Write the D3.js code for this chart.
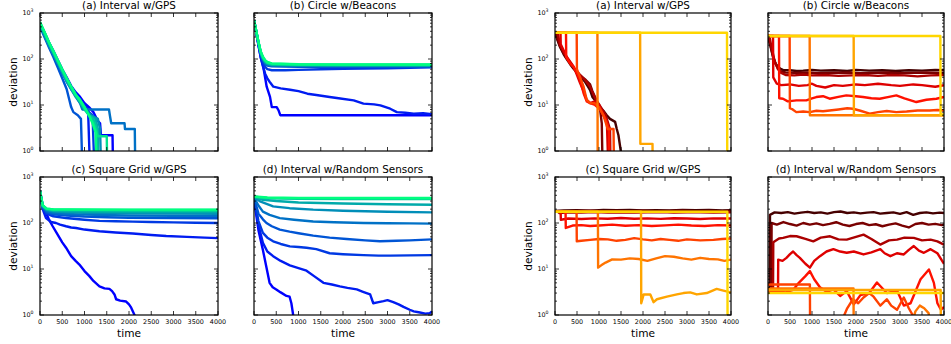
<!DOCTYPE html>
<html>
<head>
<meta charset="utf-8">
<script src="https://cdn.jsdelivr.net/npm/d3@7"></script>
<style>
  body { margin: 0; background: #fff; }
  text { font-family: "DejaVu Sans", sans-serif; fill: #000; }
</style>
</head>
<body>
<script>
// axis values
const timeTicks = [0, 500, 1000, 1500, 2000, 2500, 3000, 3500, 4000];
const decadeExps = [0, 1, 2, 3];
const panelTitles = ["(a) Interval w/GPS", "(b) Circle w/Beacons", "(c) Square Grid w/GPS", "(d) Interval w/Random Sensors"];

// left block, series 0 (blue) .. 9 (green); each point is [time, deviation]
const leftA = [
  [[0,600],[100,380],[200,230],[300,150],[400,95],[500,60],[600,40],[700,26],[800,19],[900,15],[1000,11],[1100,9],[1200,7],[1300,4.5],[1350,4],[1370,2.2],[1630,2.2],[1640,0.5]],
  [[0,560],[100,350],[200,210],[300,135],[400,85],[500,55],[600,35],[700,24],[800,17],[900,13],[1000,10],[1080,8],[1120,0.5]],
  [[0,540],[100,330],[200,200],[300,125],[400,80],[500,50],[600,33],[700,22],[800,16],[900,12],[1000,9],[1100,7],[1180,6],[1220,0.5]],
  [[0,500],[100,300],[200,180],[300,110],[400,65],[500,38],[600,22],[650,14],[700,9],[750,7],[850,6],[920,5],[950,0.5]],
  [[0,560],[100,340],[200,210],[300,130],[400,85],[500,55],[600,36],[700,24],[800,16],[900,11],[950,8],[1550,8],[1570,6],[1600,4],[1900,4],[1910,3],[2130,3],[2140,0.5]],
  [[0,520],[100,320],[200,195],[300,125],[400,80],[500,50],[600,32],[700,22],[800,15],[900,11],[1000,8],[1150,6],[1300,5],[1350,3],[1370,0.5]],
  [[0,580],[100,360],[200,220],[300,140],[400,90],[500,58],[600,37],[700,25],[800,17],[900,13],[1000,9],[1100,6],[1250,5],[1300,3],[1310,0.5]],
  [[0,600],[100,370],[200,225],[300,140],[400,88],[500,55],[600,35],[700,23],[800,16],[900,12],[1000,8],[1100,6],[1200,5],[1280,3],[1300,0.5]],
  [[0,620],[100,380],[200,230],[300,145],[400,90],[500,58],[600,38],[700,25],[800,17],[900,12],[1000,9],[1100,6],[1200,4],[1300,2.1],[1500,2.1],[1510,0.5]],
  [[0,640],[100,390],[200,235],[300,150],[400,95],[500,60],[600,38],[700,25],[800,17],[900,13],[1000,9],[1100,6],[1180,4],[1250,2.5],[1270,0.5]]
];
const leftB = [
  [[0,700],[50,380],[100,200],[150,110],[210,67],[285,25],[360,15],[400,9],[510,9],[550,7.7],[590,6],[4000,6]],
  [[0,700],[50,380],[100,200],[150,110],[200,70],[250,48],[300,38],[350,32],[435,25],[600,23],[810,21.5],[1000,20],[1200,17.6],[1400,16.5],[1700,14.9],[1900,14],[2240,12.6],[2460,10.7],[2700,10.3],[2840,9.8],[3060,8.3],[3210,7],[3400,6.8],[3590,6.5],[3800,6.6],[4000,6.3]],
  [[0,700],[50,390],[100,210],[150,120],[200,85],[250,68],[300,60],[400,57],[700,57],[1000,58],[1500,60],[2000,61],[2500,62],[3000,63],[3500,64],[4000,66]],
  [[0,700],[50,395],[100,220],[150,130],[200,95],[250,78],[300,72],[400,69],[1000,68],[2000,68],[3000,68],[4000,68]],
  [[0,700],[50,398],[100,225],[150,135],[200,98],[250,82],[300,75],[400,71],[1000,70],[2000,70],[3000,70],[4000,70]],
  [[0,700],[50,400],[100,228],[150,138],[200,102],[250,85],[300,78],[400,74],[1000,72],[2000,72],[3000,72],[4000,72]],
  [[0,700],[50,402],[100,230],[150,140],[200,105],[250,88],[300,80],[400,76],[1000,74],[2000,73],[3000,73],[4000,73]],
  [[0,700],[50,405],[100,232],[150,142],[200,107],[250,90],[300,82],[400,77],[1000,75],[2000,74],[3000,74],[4000,74]],
  [[0,700],[50,408],[100,235],[150,145],[200,110],[250,92],[300,84],[400,79],[1000,76],[2000,75],[3000,75],[4000,75]],
  [[0,700],[50,410],[100,238],[150,148],[200,112],[250,95],[300,86],[400,80],[1000,77],[2000,76],[3000,76],[4000,76]]
];
const leftC = [
  [[0,500],[60,250],[135,165],[200,120],[285,85],[400,55],[500,38],[585,29],[700,19],[800,15],[885,12.5],[1000,9],[1110,7],[1200,5.5],[1336,4.2],[1450,3.8],[1560,3.7],[1620,3.3],[1674,2.8],[1711,2.2],[1800,2.05],[1936,1.96],[2000,1.7],[2049,1.44],[2124,1],[2140,0.5]],
  [[0,480],[60,200],[135,128],[250,105],[360,100],[450,92],[585,85],[700,80],[810,78],[1000,72],[1336,66],[1700,62],[2086,59],[2500,55],[2837,52],[3300,50],[3700,48],[4000,47]],
  [[0,470],[60,210],[140,160],[300,140],[585,128],[1000,118],[1336,111],[1700,109],[2086,107],[2500,105],[3000,103],[3500,101],[4000,100]],
  [[0,460],[60,220],[150,170],[300,155],[600,145],[1000,138],[1500,133],[2000,130],[3000,128],[4000,127]],
  [[0,460],[60,225],[150,180],[300,165],[600,157],[1000,152],[2000,146],[3000,144],[4000,143]],
  [[0,470],[60,230],[150,190],[300,178],[600,170],[1000,166],[2000,162],[3000,160],[4000,158]],
  [[0,480],[60,235],[150,195],[300,185],[600,180],[1000,177],[2000,174],[3000,173],[4000,172]],
  [[0,490],[60,240],[150,200],[300,192],[1000,188],[2000,186],[3000,185],[4000,185]],
  [[0,500],[60,240],[150,205],[300,196],[1000,193],[2000,192],[4000,192]],
  [[0,500],[60,245],[150,205],[300,198],[1000,196],[2000,195],[4000,195]]
];
const leftD = [
  [[0,330],[100,70],[200,26],[270,12],[350,5],[420,4],[500,3.6],[600,3.1],[730,2.6],[800,2.5],[840,1.8],[880,1],[900,0.5]],
  [[0,340],[100,90],[200,37],[300,24],[430,19],[600,15],[805,12],[1000,10.5],[1180,9.2],[1350,7],[1560,5],[1750,4.6],[1930,4.2],[2100,3.9],[2310,3.6],[2450,3.2],[2610,2.8],[2680,1.8],[2800,1.9],[2910,2],[3000,2.1],[3130,1.9],[3250,1.7],[3360,1.5],[3500,1.3],[3590,1.2],[3700,1.15],[3850,1.07],[3950,1.1],[4000,1.2]],
  [[0,350],[100,110],[200,61],[300,48],[430,40],[600,35],[805,31],[1000,30],[1180,29],[1400,27],[1700,22],[2000,21],[2460,20],[2800,19.5],[3060,19.5],[3500,19.8],[4000,20]],
  [[0,355],[100,160],[200,120],[280,100],[400,85],[580,72],[800,65],[1000,60],[1330,53],[1700,48],[2080,45],[2500,42],[2830,40],[3200,41],[3500,42],[4000,44]],
  [[0,360],[100,240],[200,177],[350,150],[580,128],[900,118],[1330,108],[1800,104],[2460,100],[3000,99],[3500,98],[4000,97]],
  [[0,365],[150,290],[430,230],[800,210],[1330,195],[2000,185],[3000,176],[4000,170]],
  [[0,370],[200,320],[500,300],[1000,280],[2000,265],[3000,255],[4000,250]],
  [[0,372],[300,345],[1000,335],[2000,332],[4000,330]],
  [[0,375],[300,352],[1000,345],[2000,343],[4000,342]],
  [[0,378],[300,358],[1000,352],[2000,350],[4000,350]]
];

// right block, series 0 (dark) .. 8 (yellow)
const rightA = [
  [[0,373],[60,250],[114,182],[200,125],[266,100],[340,78],[417,62],[500,50],[570,41],[630,36],[683,32],[740,26],[797,21],[850,15],[911,12.6],[970,10],[1025,9],[1100,7.5],[1176,6],[1250,5],[1366,4.3],[1404,3],[1442,2.2],[1495,1],[1500,0.5]],
  [[0,373],[40,300],[114,190],[200,130],[266,105],[417,65],[570,44],[700,35],[797,28],[850,20],[911,15],[970,11],[1025,8],[1063,4],[1080,0.5]],
  [[0,373],[60,373],[114,200],[266,108],[417,66],[570,45],[683,35],[797,25],[911,14],[1025,9.5],[1150,6],[1250,3],[1260,0.5]],
  [[0,373],[125,373],[130,210],[266,112],[417,70],[500,45],[570,30],[650,20],[720,13],[800,11],[900,12],[1000,10],[1100,6],[1180,4],[1210,0.5]],
  [[0,373],[250,373],[255,110],[340,80],[417,68],[500,50],[570,35],[650,18],[720,12],[800,11],[911,10],[1025,8],[1150,5],[1230,3],[1240,0.5]],
  [[0,373],[493,373],[498,60],[570,40],[650,25],[720,13],[800,11],[900,11],[1000,9],[1100,6],[1200,3],[1330,3],[1340,0.5]],
  [[0,373],[964,373],[970,0.5]],
  [[0,373],[1935,373],[1940,1.43],[2216,1.43],[2220,0.5]],
  [[0,373],[3909,373],[3915,0.5]]
];
const rightB = [
  [[0,316],[50,200],[114,110],[170,80],[227,67],[300,60],[341,58],[500,57],[650,55],[800,56],[1000,58],[1200,56],[1500,57],[1800,55],[2000,58],[2300,56],[2600,57],[2900,55],[3200,57],[3500,56],[3800,58],[4000,57]],
  [[0,316],[50,210],[114,115],[170,80],[227,62],[300,54],[400,51],[600,50],[900,51],[1200,49],[1500,50],[1800,51],[2100,49],[2400,50],[2700,51],[3000,49],[3300,50],[3600,51],[4000,50]],
  [[0,316],[30,316],[80,180],[150,90],[227,60],[300,50],[400,45],[600,44],[800,46],[1000,44],[1300,45],[1600,43],[1900,44],[2200,45],[2500,43],[2800,45],[3100,44],[3400,42],[3700,44],[4000,45]],
  [[0,316],[114,316],[120,40],[200,29],[300,27],[500,28],[700,26],[900,27],[1000,29],[1100,26],[1300,24],[1500,27],[1700,26],[2000,28],[2200,27],[2500,29],[2800,27],[3000,26],[3300,28],[3500,27],[3800,25],[4000,27]],
  [[0,316],[250,316],[255,14],[341,13.7],[450,12],[644,12.6],[871,12.6],[1000,14],[1098,14.9],[1250,15.5],[1402,13.7],[1600,15],[1780,16.2],[2000,15.5],[2159,14.9],[2350,14],[2538,13.7],[2750,15],[2917,16.2],[3100,14],[3371,11.6],[3600,13],[3826,13.7],[4000,14.9]],
  [[0,316],[492,316],[497,8.5],[560,8],[644,7],[800,7.2],[947,7],[1100,7.5],[1250,7.3],[1402,7.6],[1600,8],[1800,8.5],[1932,8.3],[2100,7.5],[2311,6.5],[2500,7],[2700,7.4],[2917,7],[3150,7.2],[3400,7.6],[3674,7.6],[3850,7.8],[4000,7.6]],
  [[0,316],[947,316],[952,6],[4000,6]],
  [[0,316],[1947,316],[1952,6],[4000,6]],
  [[0,316],[3917,316],[3922,6.2],[4000,6.2]]
];
const rightC = [
  [[0,182],[200,188],[500,190],[800,186],[1100,191],[1400,189],[1700,192],[2000,188],[2300,190],[2600,187],[2900,191],[3200,189],[3500,192],[3800,188],[4000,190]],
  [[0,180],[200,178],[500,182],[800,184],[1100,180],[1400,183],[1700,181],[2000,184],[2300,180],[2600,182],[2900,184],[3200,181],[3500,183],[3800,180],[4000,182]],
  [[0,178],[60,178],[100,165],[300,170],[600,168],[900,172],[1200,169],[1500,171],[1800,168],[2100,170],[2400,172],[2700,168],[3000,170],[3300,171],[3600,168],[4000,170]],
  [[0,176],[128,176],[133,118],[300,125],[600,122],[900,126],[1200,124],[1500,128],[1800,124],[2100,126],[2400,123],[2700,127],[3000,125],[3300,122],[3600,126],[4000,125]],
  [[0,176],[240,176],[245,78],[400,88],[600,90],[800,86],[1000,88],[1300,92],[1600,87],[1900,90],[2200,86],[2500,89],[2800,92],[3100,88],[3400,86],[3700,90],[4000,88]],
  [[0,176],[490,176],[495,40],[600,41],[800,43],[1000,45],[1200,44],[1400,41],[1600,43],[1800,47],[2000,44],[2200,42],[2400,45],[2600,43],[2800,41],[3000,44],[3300,42],[3600,43],[3800,45],[4000,46]],
  [[0,176],[975,176],[980,10.7],[1050,12],[1150,13.8],[1300,16.2],[1500,16],[1700,17],[1900,16.5],[2100,15],[2300,17],[2500,19],[2700,18.5],[2900,17],[3100,16],[3300,17.5],[3500,16.5],[3700,16.2],[3850,15],[4000,16]],
  [[0,176],[1955,176],[1960,1.8],[2015,2.8],[2166,2.8],[2241,1.9],[2317,2.2],[2543,2.5],[2770,2.8],[2920,3],[3072,3.1],[3223,2.8],[3449,3],[3675,3.7],[3826,3.4],[4000,3.1]],
  [[0,176],[3917,176],[3922,0.5]]
];
const rightD = [
  [[0,3.2],[38,3.2],[45,150],[150,170],[300,165],[450,172],[600,160],[750,168],[900,175],[1050,165],[1200,170],[1350,160],[1500,172],[1650,178],[1800,165],[1950,170],[2100,162],[2250,168],[2400,172],[2550,160],[2700,165],[2850,170],[3000,158],[3150,172],[3300,150],[3450,165],[3600,170],[3750,162],[3900,168],[4000,165]],
  [[0,3.2],[76,3.2],[82,100],[200,92],[350,105],[500,95],[650,88],[800,100],[950,92],[1100,98],[1250,90],[1400,96],[1550,104],[1700,92],[1850,86],[2000,95],[2150,100],[2300,90],[2450,94],[2600,85],[2750,92],[2900,98],[3050,88],[3200,80],[3350,95],[3500,100],[3650,92],[3800,96],[3950,90],[4000,93]],
  [[0,3.2],[114,3.2],[120,38],[250,46],[343,47.5],[500,52],[648,51.5],[850,45],[1029,40],[1200,48],[1410,51.5],[1600,44],[1790,43.6],[2000,50],[2171,56],[2350,45],[2552,34],[2750,42],[2933,43.6],[3100,48],[3314,47.5],[3500,42],[3695,43.6],[3850,40],[4000,34]],
  [[0,3.2],[228,3.2],[232,16],[330,15],[419,17.5],[500,21],[571,24],[650,20],[724,17.5],[850,13],[952,10.7],[1050,15],[1181,19],[1330,24],[1486,27],[1640,24],[1790,22.5],[1950,24],[2171,20.7],[2350,23],[2552,27],[2650,22],[2781,19],[2930,22],[3086,20.7],[3200,26],[3314,31.5],[3430,25],[3543,22.5],[3695,27],[3850,22],[4000,13]],
  [[0,3.2],[200,3.3],[400,3.1],[571,3.5],[700,5],[850,7],[952,9],[1050,6],[1180,4],[1330,3.2],[1486,3.6],[1640,2.6],[1790,3.3],[1950,1.7],[2100,2.7],[2300,3],[2476,5.1],[2700,3],[2933,3.4],[3086,1.6],[3240,1.8],[3467,6],[3657,9.8],[3770,5],[3850,1.8],[3930,1.3],[4000,1.5]],
  [[0,4.6],[952,4.6],[957,0.5],[1714,0.9],[1800,1.4],[1930,2.2],[2050,1.8],[2171,2.4],[2300,3],[2400,2.5],[2552,1.6],[2700,2.2],[2800,1.6],[2933,1.3],[3086,2.4],[3200,1.4],[3314,0.9],[3400,0.5]],
  [[0,3.8],[1943,3.8],[1948,0.5],[3280,0.7],[3350,1.2],[3450,1.6],[3550,1.4],[3650,1.1],[3700,0.6]],
  [[0,3.5],[3924,3.5],[3929,0.5]],
  [[0,3.0],[4000,3.0]]
];

// matplotlib-like colormaps
function winter(t) { return d3.rgb(0, 255 * t, 255 * (1 - 0.5 * t)).toString(); }
function hot(x) {
  const c = v => Math.max(0, Math.min(1, v));
  return d3.rgb(255 * c(x / 0.365), 255 * c((x - 0.365) / 0.375), 255 * c((x - 0.74) / 0.26)).toString();
}

const width = 951, height = 344;
const svg = d3.select('body').append('svg').attr('width', width).attr('height', height);

const rowTops = [13, 177];
const panelH = 138;
const groups = [
  { lefts: [40, 254], w: 178, labelX: 16.5, data: [leftA, leftB, leftC, leftD], color: (i, n) => winter(i / (n - 1)) },
  { lefts: [555, 768], w: 176, labelX: 532, data: [rightA, rightB, rightC, rightD], color: (i, n) => hot(0.1 + i * 0.58 / (n - 1)) }
];

const line = d3.line().curve(d3.curveLinear);
let clipId = 0;

groups.forEach(g => {
  g.data.forEach((series, p) => {
    const col = p % 2, row = Math.floor(p / 2);
    const left = g.lefts[col], top = rowTops[row];
    const x = d3.scaleLinear().domain([0, 4000]).range([left, left + g.w]);
    const y = d3.scaleLog().domain([1, 1000]).range([top + panelH, top]);

    const id = 'clip' + (clipId++);
    svg.append('clipPath').attr('id', id)
      .append('rect').attr('x', left).attr('y', top).attr('width', g.w).attr('height', panelH);

    const lines = svg.append('g').attr('clip-path', `url(#${id})`);
    series.forEach((s, i) => {
      lines.append('path')
        .attr('d', line.x(d => x(d[0])).y(d => y(d[1]))(s))
        .attr('fill', 'none')
        .attr('stroke', g.color(i, series.length))
        .attr('stroke-width', 2.4)
        .attr('stroke-linejoin', 'round');
    });

    // ticks, all pointing inwards
    const ticks = svg.append('g').attr('stroke', '#000').attr('stroke-width', 0.8);
    timeTicks.forEach(t => {
      ticks.append('line').attr('x1', x(t)).attr('x2', x(t)).attr('y1', top + panelH).attr('y2', top + panelH - 4);
      ticks.append('line').attr('x1', x(t)).attr('x2', x(t)).attr('y1', top).attr('y2', top + 4);
    });
    decadeExps.forEach(e => {
      const yy = y(Math.pow(10, e));
      ticks.append('line').attr('x1', left).attr('x2', left + 4).attr('y1', yy).attr('y2', yy);
      ticks.append('line').attr('x1', left + g.w).attr('x2', left + g.w - 4).attr('y1', yy).attr('y2', yy);
      if (e < 3) {
        for (let m = 2; m <= 9; m++) {
          const ym = y(m * Math.pow(10, e));
          ticks.append('line').attr('x1', left).attr('x2', left + 2).attr('y1', ym).attr('y2', ym);
          ticks.append('line').attr('x1', left + g.w).attr('x2', left + g.w - 2).attr('y1', ym).attr('y2', ym);
        }
      }
    });

    svg.append('rect')
      .attr('x', left).attr('y', top).attr('width', g.w).attr('height', panelH)
      .attr('fill', 'none').attr('stroke', '#000').attr('stroke-width', 1.2);

    svg.append('text')
      .attr('x', left + g.w / 2).attr('y', top - 4.5)
      .attr('text-anchor', 'middle').style('font-size', '10.4px')
      .text(panelTitles[p]);

    if (row === 1) {
      timeTicks.forEach(t => {
        svg.append('text')
          .attr('x', x(t)).attr('y', top + panelH + 9)
          .attr('text-anchor', 'middle').style('font-size', '6.4px')
          .text(t);
      });
      svg.append('text')
        .attr('x', left + g.w / 2).attr('y', top + panelH + 21.5)
        .attr('text-anchor', 'middle').style('font-size', '10.6px')
        .text('time');
    }

    if (col === 0) {
      decadeExps.forEach(e => {
        const t = svg.append('text')
          .attr('x', left - 6.5).attr('y', y(Math.pow(10, e)) + 2.2)
          .attr('text-anchor', 'end').style('font-size', '6.4px');
        t.append('tspan').text('10');
        t.append('tspan').attr('dy', -3).style('font-size', '4.6px').text(e);
      });
      svg.append('text')
        .attr('transform', `translate(${g.labelX},${top + panelH / 2}) rotate(-90)`)
        .attr('text-anchor', 'middle').style('font-size', '10.6px')
        .text('deviation');
    }
  });
});
</script>
</body>
</html>
